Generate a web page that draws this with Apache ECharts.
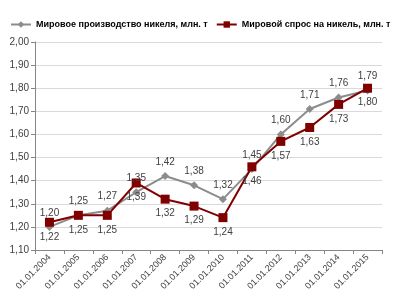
<!DOCTYPE html>
<html><head><meta charset="utf-8">
<script src="https://cdn.jsdelivr.net/npm/echarts@6/dist/echarts.min.js"></script>
<style>html,body{margin:0;padding:0;background:#fff}#c{width:400px;height:296px}</style>
</head><body><div id="c"></div>
<script>
var categories = ['01.01.2004','01.01.2005','01.01.2006','01.01.2007','01.01.2008','01.01.2009','01.01.2010','01.01.2011','01.01.2012','01.01.2013','01.01.2014','01.01.2015'];
var production = [1.20,1.25,1.27,1.35,1.42,1.38,1.32,1.45,1.60,1.71,1.76,1.79];
var demand = [1.22,1.25,1.25,1.39,1.32,1.29,1.24,1.46,1.57,1.63,1.73,1.80];
var seriesNames = ['Мировое производство никеля, млн. т','Мировой спрос на никель, млн. т'];

var fmt = function(v){return v.toFixed(2).replace('.',',');};
var chart = echarts.init(document.getElementById('c'));
chart.setOption({
  animation:false,
  textStyle:{fontFamily:'Liberation Sans, Arial, sans-serif'},
  legend:{
    top:20,left:10,right:0,itemGap:8,itemWidth:20,itemHeight:8,padding:0,
    textStyle:{fontFamily:'Liberation Sans, Arial',fontWeight:'bold',fontSize:9,color:'#000'},
    data:[{name:seriesNames[0]},{name:seriesNames[1]}]
  },
  grid:{left:35,right:18,top:42,bottom:46},
  xAxis:{
    type:'category',data:categories,boundaryGap:true,
    axisLine:{lineStyle:{color:'#868686'}},
    axisTick:{show:true,length:4,lineStyle:{color:'#868686'}},
    axisLabel:{rotate:45,fontSize:9,color:'#404040',margin:6,interval:0}
  },
  yAxis:{
    type:'value',min:1.1,max:2.0,interval:0.1,
    axisLine:{show:true,lineStyle:{color:'#868686'}},
    axisTick:{show:true,length:4,lineStyle:{color:'#868686'}},
    splitLine:{lineStyle:{color:'#d9d9d9'}},
    axisLabel:{fontSize:10,color:'#404040',margin:6,formatter:function(v){return fmt(v);}}
  },
  series:[
    {name:seriesNames[0],type:'line',data:production,symbol:'diamond',symbolSize:8,
     lineStyle:{color:'#8c8c8c',width:2},itemStyle:{color:'#8c8c8c'},
     label:{show:true,position:'top',distance:5,fontSize:10,color:'#404040',formatter:function(p){return fmt(p.value);}}},
    {name:seriesNames[1],type:'line',data:demand,symbol:'rect',symbolSize:9,
     lineStyle:{color:'#800000',width:2},itemStyle:{color:'#800000'},
     label:{show:true,position:'bottom',distance:5,fontSize:10,color:'#404040',formatter:function(p){return fmt(p.value);}}}
  ]
});
</script></body></html>
